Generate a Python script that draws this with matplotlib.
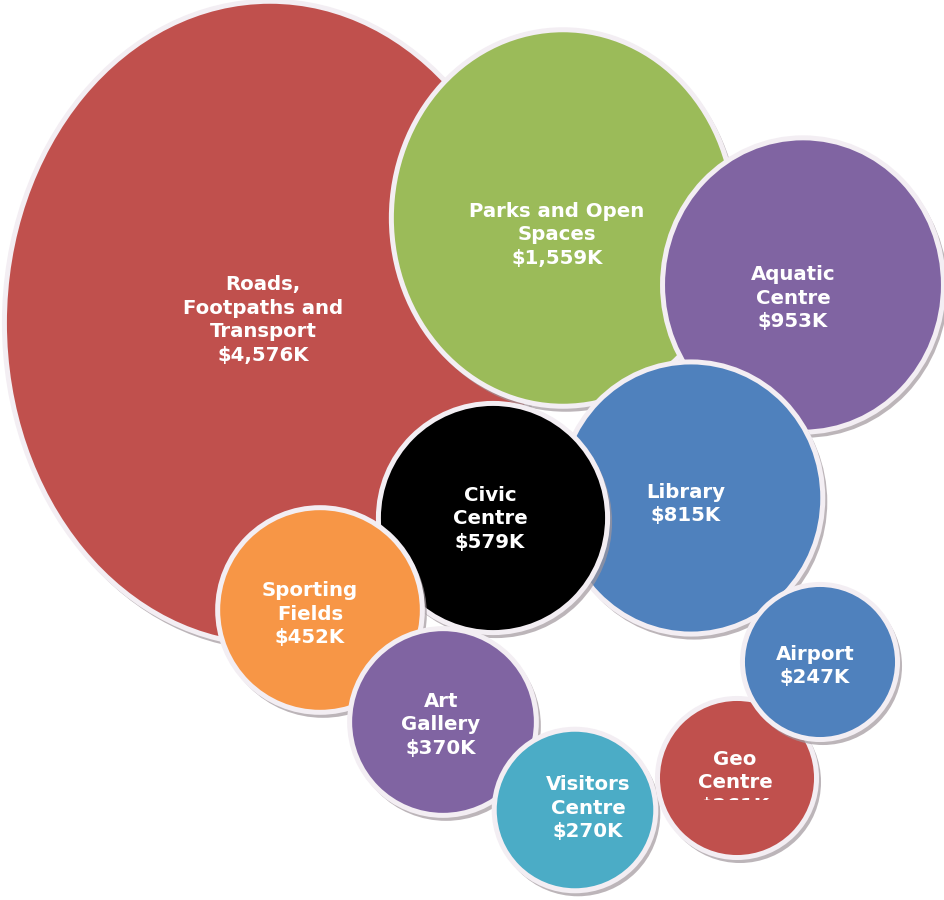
import matplotlib
matplotlib.use("Agg")
import matplotlib.pyplot as plt
from matplotlib.patches import Ellipse
from matplotlib.transforms import Bbox, TransformedBbox
import numpy as np

# ---- data ----
categories = ["Roads,\nFootpaths and\nTransport", "Parks and Open\nSpaces", "Aquatic\nCentre",
              "Library", "Civic\nCentre", "Sporting\nFields", "Art\nGallery",
              "Visitors\nCentre", "Geo\nCentre", "Airport"]
values = [4576, 1559, 953, 815, 579, 452, 370, 270, 261, 247]   # $K
x_pos = [270, 563, 803, 691, 493, 320, 443, 575, 737, 820]
y_pos = [577, 682, 615, 402, 382, 290, 178, 90, 122, 238]
colors = ["#C0504D", "#9BBB59", "#8064A2", "#4F81BD", "#000000",
          "#F79646", "#8064A2", "#4BACC6", "#C0504D", "#4F81BD"]

# label nudges (layout only, in axis units: right, down)
label_nudge = [(-7, -3), (-6, 17), (-10, 13), (-5, 6), (-3, 1),
               (-10, 4), (-2, 3), (13, -2), (-2, 5), (-5, 4)]

fig = plt.figure(figsize=(9.44, 9.0), dpi=100)
ax = fig.add_axes([0, 0, 1, 1])
ax.set_xlim(0, 944)
ax.set_ylim(0, 900)
ax.set_aspect("equal")
ax.axis("off")

v = np.array(values, dtype=float)
r = 6.83 * v ** 0.4467
aspect = np.maximum(1.0, (v / 579.0) ** 0.092)
rx = r / np.sqrt(aspect)
ry = r * np.sqrt(aspect)

border = "#F3EEF3"
for i, (cat, val) in enumerate(zip(categories, values)):
    x, y = x_pos[i], y_pos[i]
    w, h = 2 * rx[i] - 5, 2 * ry[i] - 5
    # shadow
    ax.add_patch(Ellipse((x + 3, y - 4), w + 3, h + 3, facecolor="#A0969C",
                         edgecolor="none", alpha=0.7, zorder=3 * i + 1))
    ax.add_patch(Ellipse((x, y), w, h, facecolor=colors[i], edgecolor=border,
                         linewidth=3.6, zorder=3 * i + 2))
    dx, dy = label_nudge[i]
    t = ax.text(x + dx, y - dy, f"{cat}\n${val:,}K", ha="center", va="center",
                color="white", fontsize=14.2, fontweight="bold",
                family="DejaVu Sans", linespacing=1.33, parse_math=False,
                zorder=3 * i + 3)
    if cat.startswith("Geo"):
        # the value line of this label is cut off in the original
        t.set_clip_on(True)
        t.set_clip_box(TransformedBbox(Bbox([[x - rx[i], 100], [x + rx[i], 300]]),
                                       ax.transData))

fig.savefig("out.png", dpi=100, facecolor="white")
